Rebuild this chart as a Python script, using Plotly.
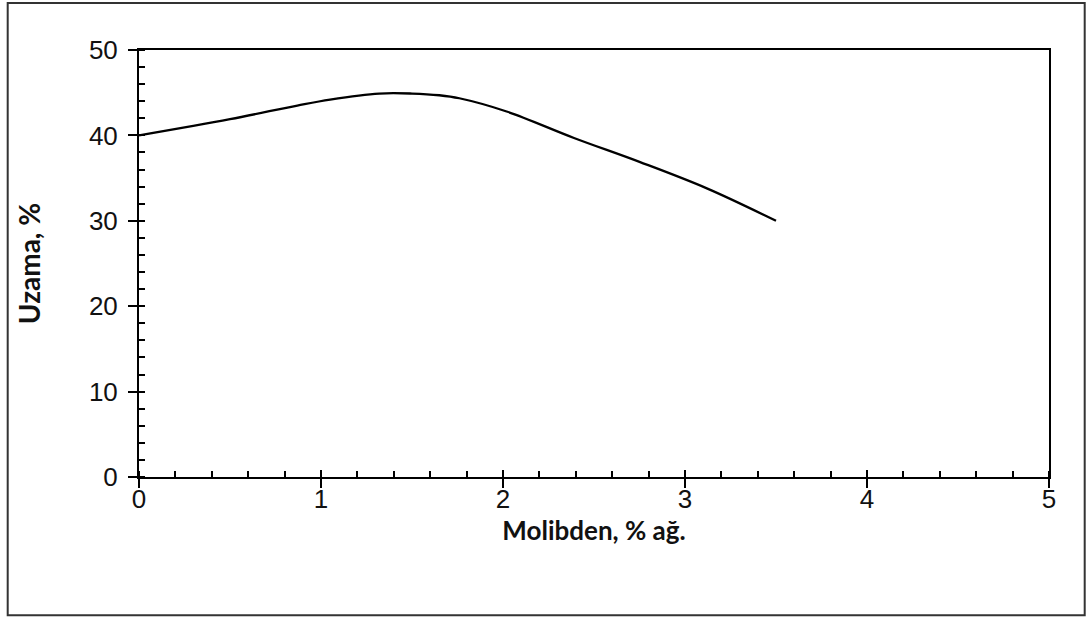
import plotly.graph_objects as go

molibden = [0, 0.5, 0.87, 1.05, 1.32, 1.5, 1.65, 1.76, 2.02, 2.39, 2.75, 3.12, 3.5]
uzama = [40, 41.9, 43.5, 44.2, 44.9, 44.9, 44.7, 44.35, 42.8, 39.7, 36.9, 33.8, 30]

x_ticks = [0, 1, 2, 3, 4, 5]
y_ticks = [0, 10, 20, 30, 40, 50]

L, R, T, B = 139.3, 1049.3, 50, 477.5
W, H = 1088, 618

fig = go.Figure()
fig.add_trace(go.Scatter(x=molibden, y=uzama, mode="lines",
                         line=dict(color="black", width=2.3, shape="spline", smoothing=1.0),
                         showlegend=False, hoverinfo="skip"))
# dummy trace for overlay axes (crossing major ticks on x)
fig.add_trace(go.Scatter(x=[None], y=[None], xaxis="x2", yaxis="y2", showlegend=False))

tickfont = dict(family="Liberation Sans, Arial", size=26, color="#111")
xtitlefont = dict(family="Lato, Open Sans", size=26, color="#111", weight="bold")
ytitlefont = dict(family="Lato, Open Sans", size=28, color="#111", weight="bold")

fig.update_layout(
    width=W, height=H,
    margin=dict(l=L, r=W - R, t=T, b=H - B),
    paper_bgcolor="white", plot_bgcolor="white",
    xaxis=dict(range=[0, 5], tickvals=x_ticks, ticktext=[str(v) for v in x_ticks],
               showgrid=False, zeroline=False, showline=True, linecolor="black", linewidth=2,
               mirror=True, ticks="outside", ticklen=9, tickwidth=2, tickcolor="black",
               minor=dict(ticks="inside", ticklen=6, tickwidth=1.5, tickcolor="black", dtick=0.2,
                          showgrid=False),
               tickfont=tickfont, ticklabelstandoff=-11,
               title=dict(text="Molibden, % ağ.", font=xtitlefont, standoff=0)),
    yaxis=dict(range=[0, 50], tickvals=y_ticks, ticktext=[str(v) for v in y_ticks],
               showgrid=False, zeroline=False, showline=True, linecolor="black", linewidth=2,
               mirror=True, ticks="outside", ticklen=9, tickwidth=2, tickcolor="black",
               minor=dict(ticks="inside", ticklen=6, tickwidth=1.5, tickcolor="black", dtick=2,
                          showgrid=False),
               tickfont=tickfont, ticklabelstandoff=5,
               title=dict(text="Uzama, %", font=ytitlefont, standoff=40)),
    xaxis2=dict(range=[0, 5], overlaying="x", tickvals=x_ticks, ticks="inside", ticklen=7,
                tickwidth=2, tickcolor="black", showticklabels=False, showgrid=False,
                zeroline=False, showline=False, side="bottom"),
    yaxis2=dict(range=[0, 50], overlaying="y", showticklabels=False, showgrid=False,
                zeroline=False, showline=False, ticks=""),
    shapes=[dict(type="rect", xref="paper", yref="paper",
                 x0=(8 - L) / (R - L), x1=(1085 - L) / (R - L),
                 y0=(B - 616) / (B - T), y1=(B - 3) / (B - T),
                 line=dict(color="#333", width=2), fillcolor="rgba(0,0,0,0)", layer="below")],
)

fig.write_html("out.html")
